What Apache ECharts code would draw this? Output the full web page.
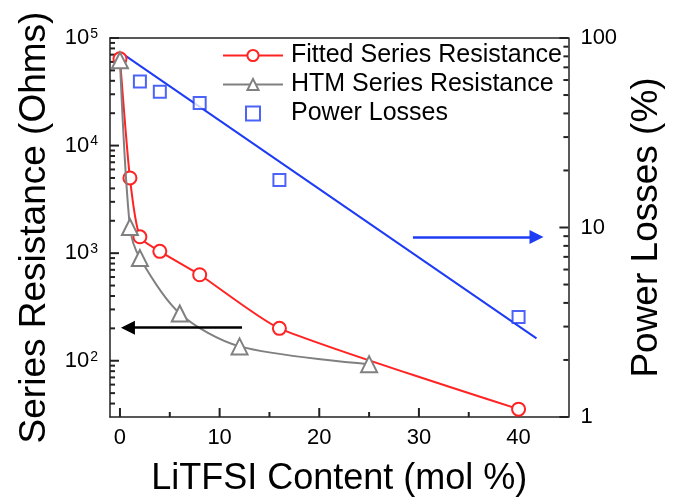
<!DOCTYPE html>
<html>
<head>
<meta charset="utf-8">
<script src="https://cdn.jsdelivr.net/npm/echarts@6/dist/echarts.min.js"></script>
<style>
html,body{margin:0;padding:0;background:#fff;}
#chart{width:673px;height:502px;}
</style>
</head>
<body>
<div id="chart"></div>
<script>
// ---- data ----
const xFitted = [0, 1, 2, 4, 8, 16, 40];
const rFitted = [64000, 5000, 1420, 1040, 630, 200, 35.5];
const xHtm = [0, 1, 2, 6, 12, 25];
const rHtm = [62000, 1750, 900, 275, 136, 93];
const xLoss = [2, 4, 8, 16, 40];
const pLoss = [59, 52, 45.4, 17.8, 3.37];
const xLossFit = [0.2, 41.8];
const pLossFit = [83, 2.6];
const arrowLossX = [29.4, 41.8];
const arrowLossY = 8.9;
const arrowResX = [12.25, 0.8];
const arrowResY = 203;
// axes
const X_MIN = -1, X_MAX = 45;
const LEFT_MIN = 30, LEFT_MAX = 100000;
const RIGHT_MIN = 1, RIGHT_MAX = 100;
const xTickLabels = [0, 10, 20, 30, 40];
const xMinorTicks = [5, 15, 25, 35];
const leftTickLabels = [100, 1000, 10000, 100000];
const leftMinorTicks = [40, 50, 60, 70, 80, 90, 200, 300, 400, 500, 600, 700, 800, 900,
  2000, 3000, 4000, 5000, 6000, 7000, 8000, 9000, 20000, 30000, 40000, 50000, 60000, 70000, 80000, 90000];
const rightTickLabels = [1, 10, 100];
const rightMinorTicks = [2, 3, 4, 5, 6, 7, 8, 9, 20, 30, 40, 50, 60, 70, 80, 90];
const names = ['Fitted Series Resistance', 'HTM Series Resistance', 'Power Losses'];

const FONT = 'Liberation Sans, Arial, sans-serif';
const RED = '#ff2323', GRAY = '#808080', BLUE = '#1f3cf5', AX = '#222';
const zip = (a, b) => a.map((v, i) => [v, b[i]]);
const ls = () => ({color: AX, width: 1.5});

// tick marks drawn through the axes' own scales (inside ticks)
function tickRender(dir) {
  return function (params, api) {
    const p = api.coord([api.value(0), api.value(1)]);
    const len = api.value(2) ? 9 : 5;
    let x2 = p[0], y2 = p[1];
    if (dir === 'up') y2 -= len;
    else if (dir === 'right') x2 += len;
    else x2 -= len;
    return {type: 'line', shape: {x1: p[0], y1: p[1], x2: x2, y2: y2},
      style: {stroke: AX, lineWidth: 2}};
  };
}
const xTickData = xTickLabels.map(v => [v, LEFT_MIN, 1]).concat(xMinorTicks.map(v => [v, LEFT_MIN, 0]));
const leftTickData = leftTickLabels.map(v => [X_MIN, v, 1]).concat(leftMinorTicks.map(v => [X_MIN, v, 0]));
const rightTickData = rightTickLabels.map(v => [X_MAX, v, 1]).concat(rightMinorTicks.map(v => [X_MAX, v, 0]));

const chart = echarts.init(document.getElementById('chart'));
const option = {
  animation: false,
  backgroundColor: '#fff',
  grid: {left: 110, top: 38, right: 94, bottom: 82},
  legend: {
    orient: 'vertical', left: 217, top: 37, itemWidth: 60, itemHeight: 14, itemGap: 2,
    selectedMode: false,
    data: [
      names[0], names[1],
      {name: names[2], icon: 'path://M0,0H10V10H0Z',
       itemStyle: {color: '#fff', borderColor: BLUE, borderWidth: 2}}
    ],
    textStyle: {fontFamily: FONT, fontSize: 25, color: '#000', lineHeight: 27, padding: [0, 0, 0, 3]}
  },
  xAxis: [
    {
      type: 'value', min: X_MIN, max: X_MAX, position: 'bottom', splitLine: {show: false},
      name: 'LiTFSI Content (mol %)', nameLocation: 'middle', nameGap: 44,
      nameTextStyle: {fontFamily: FONT, fontSize: 36, color: '#000'},
      axisLine: {show: true, onZero: false, lineStyle: ls()},
      axisTick: {show: false},
      axisLabel: {customValues: xTickLabels, fontFamily: FONT, fontSize: 22, color: '#000', margin: 10}
    },
    {
      type: 'value', min: X_MIN, max: X_MAX, position: 'top', splitLine: {show: false},
      axisLine: {show: true, onZero: false, lineStyle: ls()}, axisLabel: {show: false}, axisTick: {show: false}
    }
  ],
  yAxis: [
    {
      type: 'log', logBase: 10, min: LEFT_MIN, max: LEFT_MAX, position: 'left', splitLine: {show: false},
      name: 'Series Resistance (Ohms)', nameLocation: 'middle', nameGap: 57, nameRotate: 90,
      nameTextStyle: {fontFamily: FONT, fontSize: 37, color: '#000'},
      axisLine: {show: true, onZero: false, lineStyle: ls()},
      axisTick: {show: false},
      axisLabel: {
        customValues: leftTickLabels, margin: 12,
        formatter: v => '{b|10}{s|' + Math.round(Math.log10(v)) + '}',
        rich: {
          b: {fontFamily: FONT, fontSize: 22, color: '#000'},
          s: {fontFamily: FONT, fontSize: 14, color: '#000', verticalAlign: 'top', padding: [0, 0, 8, 1]}
        }
      }
    },
    {
      type: 'log', logBase: 10, min: RIGHT_MIN, max: RIGHT_MAX, position: 'right', splitLine: {show: false},
      name: 'Power Losses (%)', nameLocation: 'middle', nameGap: 50, nameRotate: 90,
      nameTextStyle: {fontFamily: FONT, fontSize: 37, color: '#000'},
      axisLine: {show: true, onZero: false, lineStyle: ls()},
      axisTick: {show: false},
      axisLabel: {customValues: rightTickLabels, margin: 12, fontFamily: FONT, fontSize: 22, color: '#000'}
    }
  ],
  series: [
    {type: 'custom', name: 'xticks', xAxisIndex: 0, yAxisIndex: 0, data: xTickData,
     renderItem: tickRender('up'), silent: true, clip: false, z: 1},
    {type: 'custom', name: 'lticks', xAxisIndex: 0, yAxisIndex: 0, data: leftTickData,
     renderItem: tickRender('right'), silent: true, clip: false, z: 1},
    {type: 'custom', name: 'rticks', xAxisIndex: 0, yAxisIndex: 1, data: rightTickData,
     renderItem: tickRender('left'), silent: true, clip: false, z: 1},
    {
      name: names[2] + ' fit', type: 'line', yAxisIndex: 1, data: zip(xLossFit, pLossFit),
      symbol: 'none', lineStyle: {color: BLUE, width: 2}, silent: true, z: 2,
      markLine: {
        silent: true, symbol: ['none', 'triangle'], symbolSize: 14, label: {show: false},
        lineStyle: {color: BLUE, width: 2.5, type: 'solid'},
        data: [[{coord: [arrowLossX[0], arrowLossY]}, {coord: [arrowLossX[1], arrowLossY]}]]
      }
    },
    {
      name: names[0], type: 'line', yAxisIndex: 0, data: zip(xFitted, rFitted),
      smooth: 0.2,
      symbol: 'emptyCircle', symbolSize: 13, itemStyle: {color: RED, borderWidth: 2},
      lineStyle: {color: RED, width: 2}, z: 3,
      markLine: {
        silent: true, symbol: ['none', 'triangle'], symbolSize: 14, label: {show: false},
        lineStyle: {color: '#000', width: 2.5, type: 'solid'},
        data: [[{coord: [arrowResX[0], arrowResY]}, {coord: [arrowResX[1], arrowResY]}]]
      }
    },
    {
      name: names[1], type: 'line', yAxisIndex: 0, data: zip(xHtm, rHtm),
      smooth: 0.3,
      symbol: 'emptyTriangle', symbolSize: 16, itemStyle: {color: GRAY, borderWidth: 2},
      lineStyle: {color: GRAY, width: 2}, z: 4
    },
    {
      name: names[2], type: 'scatter', yAxisIndex: 1, data: zip(xLoss, pLoss),
      symbol: 'emptyRect', symbolSize: 12, itemStyle: {color: BLUE, borderWidth: 2}, z: 5
    }
  ]
};
chart.setOption(option);
</script>
</body>
</html>
